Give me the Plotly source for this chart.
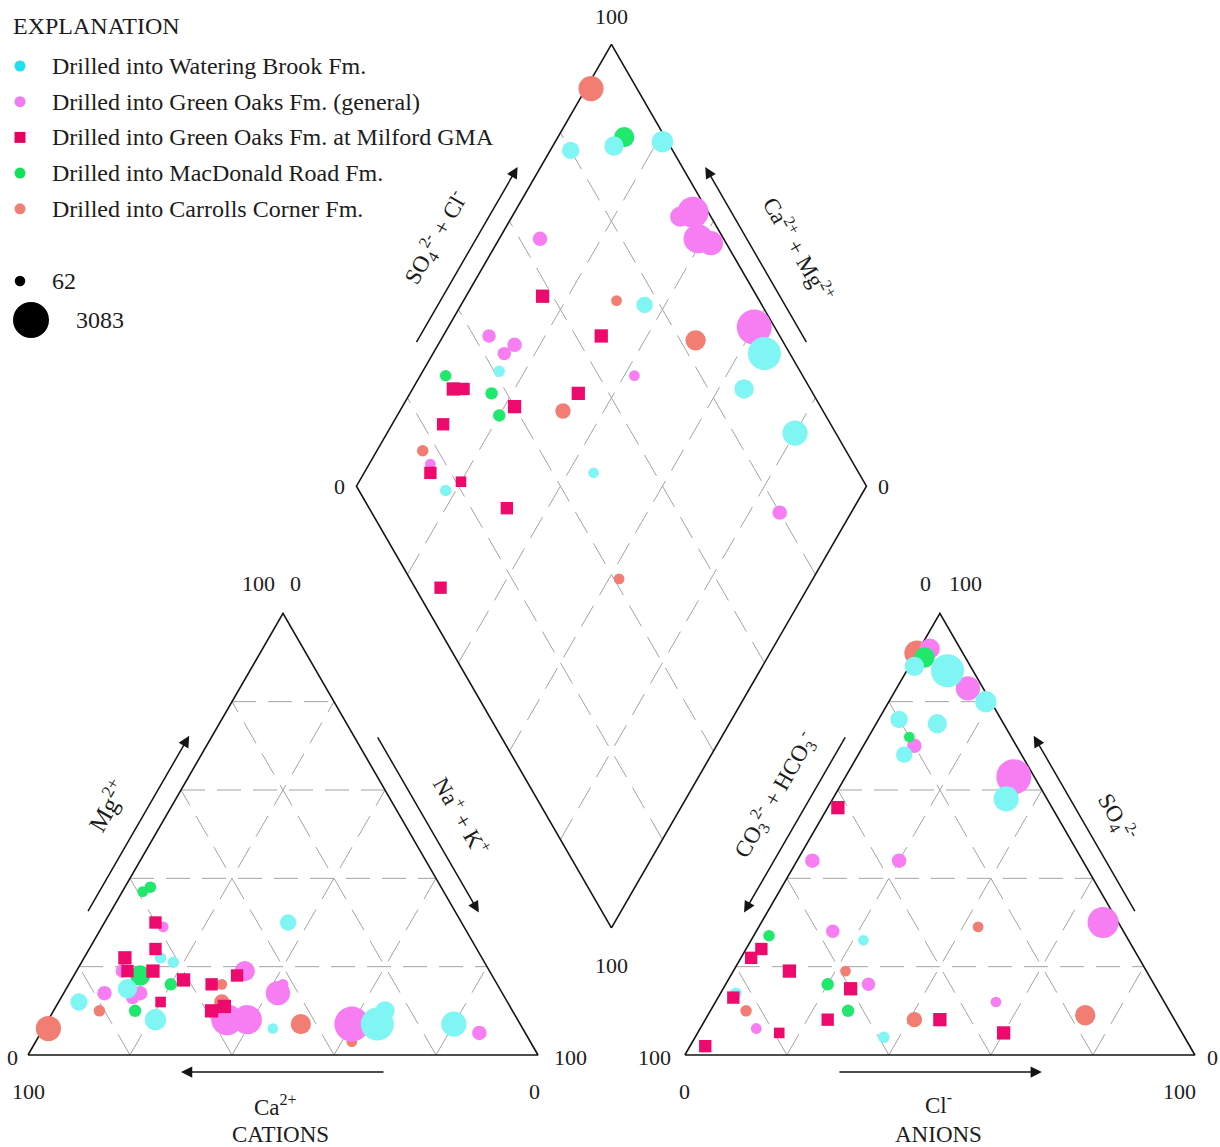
import math
import plotly.graph_objects as go

# ---------------------------------------------------------------------------
# Water chemistry, percent of total cations / anions (meq/L).
# Na+ + K+ = 100 - Ca - Mg ;  CO3 + HCO3 = 100 - Cl - SO4
# *_val is the variable that sets the marker size.
# ---------------------------------------------------------------------------

# Drilled into Watering Brook Fm.
wb_ca = [84, 73, 71, 34, 63, 28, 25, 13, 61, 49]
wb_mg = [12, 15, 8, 30, 22, 7, 10, 7, 21, 6]
wb_cl = [4, 1, 19, 9, 37, 8, 12, 34, 3, 22]
wb_so4 = [76, 88, 80, 68, 4, 87, 75, 58, 14, 26]
wb_val = [870, 1110, 1340, 760, 180, 2730, 1110, 1800, 180, 70]

# Drilled into Green Oaks Fm. (general)
gog_ca = [48, 57, 53, 44, 33, 78, 72, 71, 73, 42, 59, 9]
gog_mg = [19, 8, 8, 14, 7, 14, 19, 14, 13, 16, 29, 5]
gog_cl = [2, 67, 8, 14, 33, 20, 15, 3, 28, 55, 11, 10]
gog_so4 = [92, 30, 87, 83, 63, 44, 28, 44, 16, 12, 6, 70]
gog_val = [1220, 2500, 2270, 1690, 2970, 530, 410, 530, 410, 90, 95, 530]

# Drilled into Green Oaks Fm. at Milford GMA
mil_ca = [66, 59, 70, 60, 61, 56, 71, 63, 68, 50, 56]
mil_mg = [19, 10, 22, 30, 17, 11, 19, 24, 12, 18, 16]
mil_cl = [2, 60, 11, 24, 25, 46, 2, 3, 16, 3, 3]
mil_so4 = [56, 5, 19, 8, 15, 8, 22, 13, 5, 24, 2]
mil_val = [530, 530, 530, 410, 530, 530, 410, 410, 180, 410, 410]

# Drilled into MacDonald Road Fm.
mac_ca = [69, 57, 74, 64, 59]
mac_mg = [18, 38, 10, 16, 37]
mac_cl = [2, 3, 27, 20, 8]
mac_so4 = [90, 27, 10, 16, 72]
mac_val = [1220, 180, 290, 290, 90]

# Drilled into Carrolls Corner Fm.
cc_ca = [93, 54, 43, 56, 81, 35]
cc_mg = [6, 16, 7, 12, 10, 3]
cc_cl = [0, 43, 74, 41, 7, 22]
cc_so4 = [91, 29, 9, 8, 10, 19]
cc_val = [1800, 90, 1220, 640, 180, 90]

# Marker-size key values
size_key = [62, 3083]

# ---------------------------------------------------------------------------
# Piper geometry (triangle side = 100 units)
# ---------------------------------------------------------------------------
W, H = 1220, 1147
PX = 5.1                    # pixels per unit
X0_PX, Y0_PX = 28, 1055     # page position of the cation triangle's left corner
S = math.sqrt(3) / 2
GAP = 28.8
AX0 = 100 + GAP
BX, BY = 100 + GAP / 2, GAP * S

D_MIN, D_MAX = 10.5, 36.0


def msize(vals):
    lo, hi = size_key
    return [D_MIN + (D_MAX - D_MIN) * (v - lo) / (hi - lo) for v in vals]


def cat_xy(ca, mg):
    na = 100 - ca - mg
    return na + mg / 2, mg * S


def an_xy(cl, so4):
    return AX0 + cl + so4 / 2, so4 * S


def dia_pt(c, a):
    # c = Ca + Mg (%), a = SO4 + Cl (%)
    return BX + (a - c) / 2, BY + (a + c) * S


def px2paper(px, py):
    return px / W, 1 - py / H


def lerp(p, q, t):
    return (p[0] + t * (q[0] - p[0]), p[1] + t * (q[1] - p[1]))


C_L, C_R, C_T = (0, 0), (100, 0), (50, 100 * S)
A_L, A_R, A_T = (AX0, 0), (AX0 + 100, 0), (AX0 + 50, 100 * S)
D_B, D_L, D_T, D_R = dia_pt(0, 0), dia_pt(100, 0), dia_pt(100, 100), dia_pt(0, 100)

fig = go.Figure()

# ---- dashed grid (20 % steps) ------------------------------------------
gx, gy = [], []


def seg(p, q):
    gx.extend([p[0], q[0], None])
    gy.extend([p[1], q[1], None])


for L, R, T in [(C_L, C_R, C_T), (A_L, A_R, A_T)]:
    for k in (0.2, 0.4, 0.6, 0.8):
        seg(lerp(L, T, k), lerp(R, T, k))
        b = lerp(L, R, k)
        seg(b, (b[0] + (1 - k) * (T[0] - L[0]), b[1] + (1 - k) * (T[1] - L[1])))
        seg(b, (b[0] + k * (T[0] - R[0]), b[1] + k * (T[1] - R[1])))

for k in (20, 40, 60, 80):
    seg(dia_pt(k, 0), dia_pt(k, 100))
    seg(dia_pt(0, k), dia_pt(100, k))

fig.add_trace(go.Scatter(x=gx, y=gy, mode="lines", hoverinfo="skip", showlegend=False,
                         line=dict(color="#a3a3a3", width=1, dash="24px,12px")))

# ---- outlines -----------------------------------------------------------
ox, oy = [], []
for poly in [(C_L, C_R, C_T, C_L), (A_L, A_R, A_T, A_L), (D_B, D_R, D_T, D_L, D_B)]:
    ox.extend([p[0] for p in poly] + [None])
    oy.extend([p[1] for p in poly] + [None])
fig.add_trace(go.Scatter(x=ox, y=oy, mode="lines", hoverinfo="skip", showlegend=False,
                         line=dict(color="#151515", width=1.6)))

# ---- data ---------------------------------------------------------------
groups = [
    ("Drilled into Carrolls Corner Fm.", cc_ca, cc_mg, cc_cl, cc_so4, cc_val, "#f27e73", "#f08074", "circle"),
    ("Drilled into Green Oaks Fm. (general)", gog_ca, gog_mg, gog_cl, gog_so4, gog_val, "#f77ef2", "#f07af0", "circle"),
    ("Drilled into MacDonald Road Fm.", mac_ca, mac_mg, mac_cl, mac_so4, mac_val, "#1fe86c", "#12e055", "circle"),
    ("Drilled into Watering Brook Fm.", wb_ca, wb_mg, wb_cl, wb_so4, wb_val, "#7ff6f4", "#1fe0ee", "circle"),
    ("Drilled into Green Oaks Fm. at Milford GMA", mil_ca, mil_mg, mil_cl, mil_so4, mil_val, "#ee0a6c", "#e4045f", "square"),
]

for name, ca, mg, cl, so4, val, col, _, sym in groups:
    xs, ys = [], []
    for i in range(len(ca)):
        p = cat_xy(ca[i], mg[i])
        xs.append(p[0]); ys.append(p[1])
    for i in range(len(ca)):
        p = an_xy(cl[i], so4[i])
        xs.append(p[0]); ys.append(p[1])
    for i in range(len(ca)):
        p = dia_pt(ca[i] + mg[i], cl[i] + so4[i])
        xs.append(p[0]); ys.append(p[1])
    sz = msize(val) * 3          # same size in all three fields
    if sym == "square":
        sz = [s * 0.92 for s in sz]
    fig.add_trace(go.Scatter(x=xs, y=ys, mode="markers", name=name, showlegend=False,
                             marker=dict(size=sz, color=col, symbol=sym, opacity=1,
                                         line=dict(width=0))))

# ---- arrows and axis titles --------------------------------------------
FONT = "Liberation Serif"
TXT = "#1c1c1c"
ann = []


def edge_arrow(A, B, t0, t1, n, off_px):
    off = off_px / PX
    tail = lerp(A, B, t0)
    head = lerp(A, B, t1)
    ann.append(dict(x=head[0] + n[0] * off, y=head[1] + n[1] * off,
                    ax=tail[0] + n[0] * off, ay=tail[1] + n[1] * off,
                    xref="x", yref="y", axref="x", ayref="y", text="",
                    showarrow=True, arrowhead=2, arrowsize=1.5, arrowwidth=1.5,
                    arrowcolor="#151515", standoff=0, startstandoff=0))


def edge_label(A, B, t, n, off_px, text, angle, size=23):
    off = off_px / PX
    p = lerp(A, B, t)
    ann.append(dict(x=p[0] + n[0] * off, y=p[1] + n[1] * off, xref="x", yref="y",
                    text=text, showarrow=False, textangle=angle,
                    font=dict(family=FONT, size=size, color=TXT)))


NL = (-S, 0.5)
NR = (S, 0.5)
DOWN = (0, -1)

edge_arrow(C_R, C_L, 0.3, 0.7, DOWN, 17)
edge_arrow(C_L, C_T, 0.3, 0.7, NL, 20)
edge_arrow(C_T, C_R, 0.3, 0.7, NR, 20)
edge_arrow(A_L, A_R, 0.3, 0.7, DOWN, 17)
edge_arrow(A_T, A_L, 0.3, 0.7, NL, 20)
edge_arrow(A_R, A_T, 0.3, 0.7, NR, 20)
edge_arrow(D_L, D_T, 0.3, 0.7, NL, 20)
edge_arrow(D_R, D_T, 0.3, 0.7, NR, 20)

edge_label(C_L, C_T, 0.5, NL, 57, "Mg<sup>2+</sup>", -60, 25)
edge_label(C_T, C_R, 0.52, NR, 54, "Na<sup>+</sup> + K<sup>+</sup>", 60)
edge_label(A_T, A_L, 0.47, NL, 52, "CO<sub>3</sub><sup>2-</sup> + HCO<sub>3</sub><sup>-</sup>", -60)
edge_label(A_R, A_T, 0.48, NR, 52, "SO<sub>4</sub><sup>2-</sup>", 60)
edge_label(D_L, D_T, 0.5, NL, 56, "SO<sub>4</sub><sup>2-</sup> + Cl<sup>-</sup>", -60)
edge_label(D_R, D_T, 0.47, NR, 60, "Ca<sup>2+</sup> + Mg<sup>2+</sup>", 60)


def corner_label(P, text, dx, dy, size=22):
    ann.append(dict(x=P[0], y=P[1], xref="x", yref="y", text=text, showarrow=False,
                    xshift=dx, yshift=dy, font=dict(family=FONT, size=size, color=TXT)))


# cation triangle scale ends
corner_label(C_T, "100", -25, 30)
corner_label(C_T, "0", 12, 30)
corner_label(C_L, "0", -16, -2)
corner_label(C_R, "100", 32, -2)
corner_label(C_L, "100", 0, -36)
corner_label(C_R, "0", -4, -36)
# anion triangle scale ends
corner_label(A_T, "0", -14, 30)
corner_label(A_T, "100", 26, 30)
corner_label(A_L, "100", -30, -2)
corner_label(A_R, "0", 18, -2)
corner_label(A_L, "0", 0, -36)
corner_label(A_R, "100", -15, -36)
# diamond scale ends
corner_label(D_T, "100", 0, 28)
corner_label(D_L, "0", -17, 0)
corner_label(D_R, "0", 17, 0)
corner_label(D_B, "100", 0, -38)

# bottom titles
corner_label(lerp(C_L, C_R, 0.485), "Ca<sup>2+</sup>", 0, -50, 23)
corner_label(lerp(C_L, C_R, 0.496), "CATIONS", 0, -79, 23)
corner_label(lerp(A_L, A_R, 0.497), "Cl<sup>-</sup>", 0, -48, 23)
corner_label(lerp(A_L, A_R, 0.497), "ANIONS", 0, -79, 23)

# ---- explanation block ---------------------------------------------------
shapes = []


def key_mark(px, py, d, color, sym="circle"):
    xa, ya = px2paper(px, py)
    shapes.append(dict(type="rect" if sym == "square" else "circle",
                       xref="paper", yref="paper", xsizemode="pixel", ysizemode="pixel",
                       xanchor=xa, yanchor=ya, x0=-d / 2, x1=d / 2, y0=-d / 2, y1=d / 2,
                       fillcolor=color, line=dict(width=0)))


def key_text(px, py, text, size=24):
    xa, ya = px2paper(px, py)
    ann.append(dict(x=xa, y=ya, xref="paper", yref="paper", text=text, showarrow=False,
                    xanchor="left", yanchor="middle", font=dict(family=FONT, size=size, color=TXT)))


key_text(11, 26, "EXPLANATION")
key_order = [3, 1, 4, 2, 0]
for row, gi in enumerate(key_order):
    name, *_, kcol, sym = groups[gi]
    yy = 66 + row * 35.7
    key_mark(20, yy, 11, kcol, sym)
    key_text(50, yy, name)

ks = msize(size_key)
key_mark(20, 281, ks[0], "#000000")
key_text(50, 281, str(size_key[0]))
key_mark(31, 320, ks[1], "#000000")
key_text(74, 320, str(size_key[1]))

fig.update_layout(
    width=W, height=H, margin=dict(l=0, r=0, t=0, b=0),
    paper_bgcolor="white", plot_bgcolor="white", showlegend=False,
    xaxis=dict(range=[-X0_PX / PX, (W - X0_PX) / PX], visible=False, fixedrange=True),
    yaxis=dict(range=[(Y0_PX - H) / PX, Y0_PX / PX], visible=False, fixedrange=True),
    annotations=ann, shapes=shapes,
)

fig.write_html("out.html")
